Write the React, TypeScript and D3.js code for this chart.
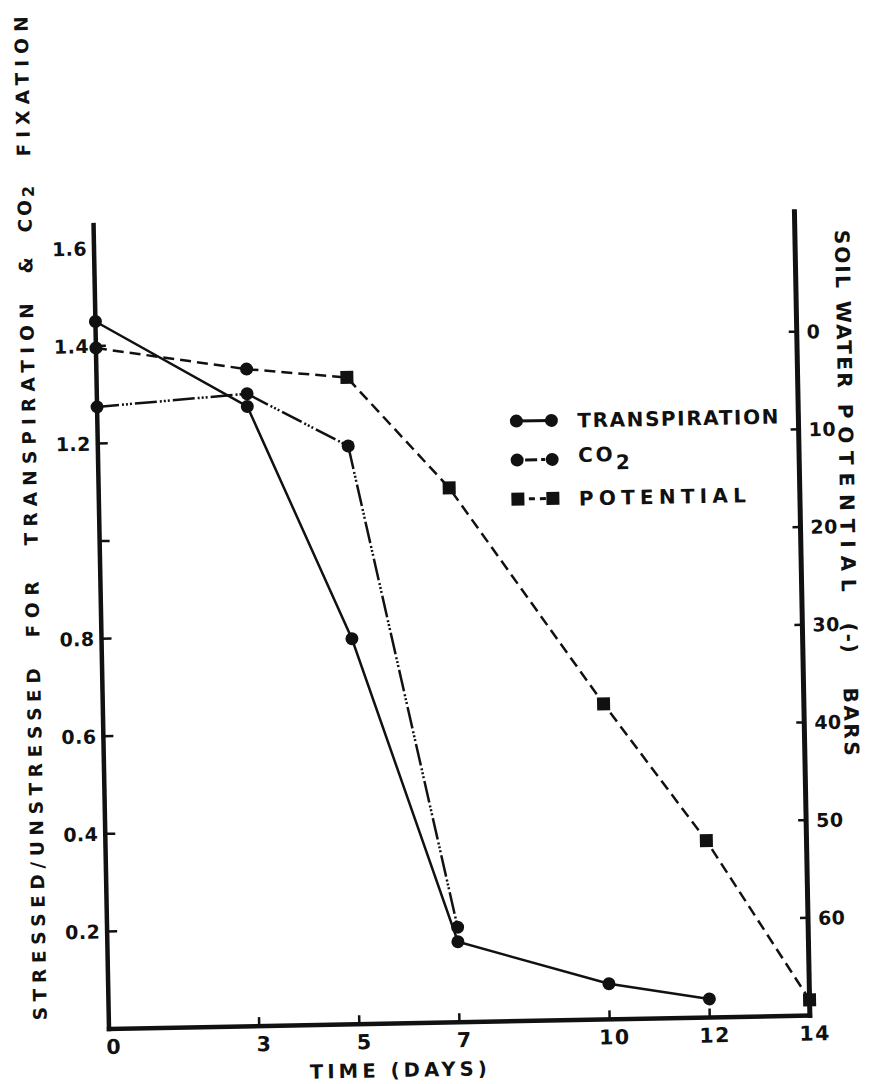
import React from "react";
import * as d3 from "d3";

// ---- data ----
const transpirationDays = [0, 3, 5, 7, 10, 12];
const transpirationRatio = [1.45, 1.27, 0.79, 0.165, 0.073, 0.038];
const co2Days = [0, 3, 5, 7];
const co2Ratio = [1.275, 1.296, 1.185, 0.195];
const potentialDays = [0, 3, 5, 7, 10, 12, 14];
const potentialBars = [0.3, 2.75, 3.8, 15.3, 37.7, 51.9, 68.4];

const dayTicks = [0, 3, 5, 7, 10, 12, 14];
const ratioTickMarks = [0.2, 0.4, 0.6, 0.8, 1.0, 1.2, 1.4];
const ratioTickLabels = [0.2, 0.4, 0.6, 0.8, 1.2, 1.4, 1.6];
const barTicks = [0, 10, 20, 30, 40, 50, 60];
const legendLabels = ["TRANSPIRATION", "CO2", "POTENTIAL"];

const INK = "#111";
const FONT = "'DejaVu Sans', sans-serif";

export default function App() {
  const W = 875;
  const H = 1084;
  const x = d3.scaleLinear().domain([0, 14]).range([109, 810]);
  const y = d3.scaleLinear().domain([0, 1.6]).range([1029, 248.2]);
  const yR = d3.scaleLinear().domain([0, 70]).range([345, 1029]);

  const lineT = d3
    .line<number>()
    .x((_, i) => x(transpirationDays[i]))
    .y((d) => y(d));
  const lineC = d3
    .line<number>()
    .x((_, i) => x(co2Days[i]))
    .y((d) => y(d));
  const lineP = d3
    .line<number>()
    .x((_, i) => x(potentialDays[i]))
    .y((d) => yR(d));

  const co2Dash = "22,3,2,2,2,2,2,3";
  const potDash = "11,6";

  // left (rotated -90) label pieces: [text, bottomY, topY]
  const leftPieces: [string, number, number][] = [
    ["STRESSED/UNSTRESSED", 1019, 667],
    ["FOR", 636, 580],
    ["TRANSPIRATION", 544, 302],
    ["&", 272, 256],
    ["FIXATION", 155, 15],
  ];
  // right (rotated 90) label pieces: [text, topY, bottomY]
  const rightPieces: [string, number, number][] = [
    ["SOIL", 244, 302],
    ["WATER", 315, 402],
    ["POTENTIAL", 418, 606],
    ["(-)", 637, 667],
    ["BARS", 702, 770],
  ];

  const legendY = [429, 468, 507];
  const legendX1 = 528;
  const legendX2 = 563;
  const legendTextX = 589;

  return (
    <svg
      width={W}
      height={H}
      style={{ position: "absolute", left: 0, top: 0, background: "#fff" }}
    >
      <rect width={W} height={H} fill="#fff" />
      <g
        transform="rotate(-1.1 109 1029)"
        fontFamily={FONT}
        fontWeight="bold"
        fill={INK}
      >
        {/* axes */}
        <line x1={x(0)} y1={1029} x2={x(0)} y2={225} stroke={INK} strokeWidth={4.5} strokeLinecap="square" />
        <line x1={x(0)} y1={1029} x2={x(14)} y2={1029} stroke={INK} strokeWidth={4.5} strokeLinecap="square" />
        <line x1={x(14)} y1={1029} x2={x(14)} y2={225} stroke={INK} strokeWidth={5} strokeLinecap="square" />

        {/* left ticks */}
        {ratioTickMarks.map((v) => (
          <line key={"lt" + v} x1={x(0)} x2={x(0) + 10} y1={y(v)} y2={y(v)} stroke={INK} strokeWidth={2.5} />
        ))}
        {ratioTickLabels.map((v) => (
          <text key={"ll" + v} x={67} y={y(v) + 7} fontSize={19} letterSpacing={0.5}>
            {v.toFixed(1)}
          </text>
        ))}

        {/* right ticks */}
        {barTicks.map((b) => (
          <line key={"rt" + b} x1={x(14) - 8} x2={x(14)} y1={yR(b)} y2={yR(b)} stroke={INK} strokeWidth={2.5} />
        ))}
        {barTicks.map((b) => (
          <text key={"rl" + b} x={x(14) + 10} y={yR(b) + 7} fontSize={19} letterSpacing={0.5}>
            {b}
          </text>
        ))}

        {/* bottom ticks */}
        {dayTicks
          .filter((d) => d !== 0 && d !== 14)
          .map((d) => (
            <line key={"bt" + d} x1={x(d)} x2={x(d)} y1={1029} y2={1020} stroke={INK} strokeWidth={2.5} />
          ))}
        {dayTicks.map((d) => (
          <text key={"bl" + d} x={x(d) + 5} y={1054} fontSize={20.5} textAnchor="middle" letterSpacing={1.5}>
            {d}
          </text>
        ))}

        <text x={309} y={1082.5} fontSize={19.5} textLength={177} lengthAdjust="spacing">
          TIME (DAYS)
        </text>

        {/* left axis title */}
        {leftPieces.map(([t, b, tp]) => (
          <text
            key={"lp" + t}
            transform={`translate(47,${b}) rotate(-90)`}
            fontSize={18.5}
            textLength={b - tp}
            lengthAdjust="spacing"
          >
            {t}
          </text>
        ))}
        <text transform={`translate(47,231) rotate(-90)`} fontSize={18.5} letterSpacing={3}>
          CO
          <tspan dy={3} fontSize={16}>
            2
          </tspan>
        </text>

        {/* right axis title */}
        {rightPieces.map(([t, tp, b]) => (
          <text
            key={"rp" + t}
            transform={`translate(850,${tp}) rotate(90)`}
            fontSize={20}
            textLength={b - tp}
            lengthAdjust="spacing"
          >
            {t}
          </text>
        ))}

        {/* series lines */}
        <path d={lineP(potentialBars) || ""} fill="none" stroke={INK} strokeWidth={2.5} strokeDasharray={potDash} />
        <path d={lineC(co2Ratio) || ""} fill="none" stroke={INK} strokeWidth={2.5} strokeDasharray={co2Dash} />
        <path d={lineT(transpirationRatio) || ""} fill="none" stroke={INK} strokeWidth={2.5} />

        {/* markers */}
        {potentialBars.map((b, i) =>
          i < 2 ? (
            <circle key={"pm" + i} cx={x(potentialDays[i])} cy={yR(b)} r={6.5} fill={INK} />
          ) : (
            <rect key={"pm" + i} x={x(potentialDays[i]) - 6.5} y={yR(b) - 6.5} width={13} height={13} fill={INK} />
          )
        )}
        {co2Ratio.map((v, i) => (
          <circle key={"cm" + i} cx={x(co2Days[i])} cy={y(v)} r={6.5} fill={INK} />
        ))}
        {transpirationRatio.map((v, i) => (
          <circle key={"tm" + i} cx={x(transpirationDays[i])} cy={y(v)} r={6.5} fill={INK} />
        ))}

        {/* legend */}
        {legendLabels.map((lab, i) => {
          const ly = legendY[i];
          const dash = i === 0 ? undefined : i === 1 ? "4,4,12" : "6,5";
          return (
            <g key={"lg" + lab}>
              <line x1={legendX1} x2={legendX2} y1={ly} y2={ly} stroke={INK} strokeWidth={3} strokeDasharray={dash} />
              {i < 2 ? (
                <>
                  <circle cx={legendX1} cy={ly} r={6.5} fill={INK} />
                  <circle cx={legendX2} cy={ly} r={6.5} fill={INK} />
                </>
              ) : (
                <>
                  <rect x={legendX1 - 6.5} y={ly - 6.5} width={13} height={13} fill={INK} />
                  <rect x={legendX2 - 6.5} y={ly - 6.5} width={13} height={13} fill={INK} />
                </>
              )}
              {lab === "CO2" ? (
                <text x={legendTextX} y={ly + 3} fontSize={20} letterSpacing={3}>
                  CO
                  <tspan dy={8} fontSize={20}>
                    2
                  </tspan>
                </text>
              ) : (
                <text
                  x={legendTextX}
                  y={ly + 7.5}
                  fontSize={20}
                  textLength={lab === "TRANSPIRATION" ? 201 : 167}
                  lengthAdjust="spacing"
                >
                  {lab}
                </text>
              )}
            </g>
          );
        })}
      </g>
    </svg>
  );
}
